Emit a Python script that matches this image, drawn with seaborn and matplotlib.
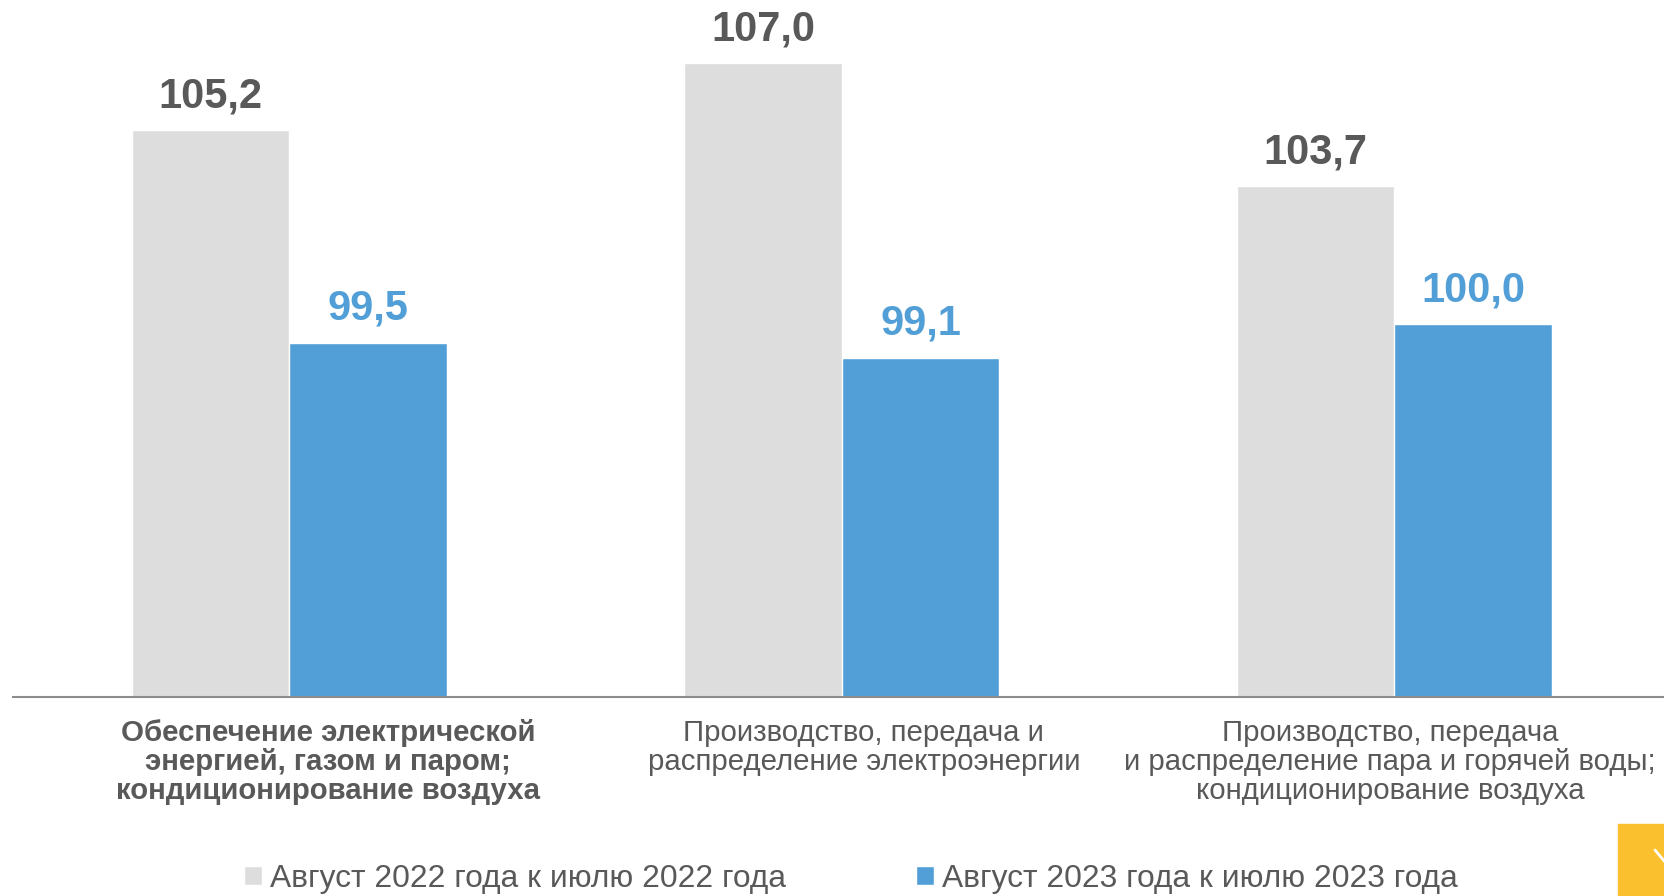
import pandas as pd
import matplotlib.pyplot as plt
import matplotlib.transforms as mtransforms
from matplotlib.patches import Rectangle
import seaborn as sns

# Categories and series
categories = ["Обеспечение электрической\nэнергией, газом и паром;\nкондиционирование воздуха",
              "Производство, передача и\nраспределение электроэнергии",
              "Производство, передача\nи распределение пара и горячей воды;\nкондиционирование воздуха"]
series = ["Август 2022 года к июлю 2022 года", "Август 2023 года к июлю 2023 года"]
values_2022 = [105.2, 107.0, 103.7]
values_2023 = [99.5, 99.1, 100.0]

df = pd.DataFrame({
    "category": categories * 2,
    "series": [series[0]] * 3 + [series[1]] * 3,
    "value": values_2022 + values_2023,
})

grey = "#DDDDDD"
blue = "#529FD7"
text_grey = "#595959"

sns.set_theme(style="white")
plt.rcParams['font.family'] = ['Liberation Sans', 'DejaVu Sans']

fig = plt.figure(figsize=(16.65, 8.96), dpi=100)
ax = fig.add_axes([13 / 1665, 199 / 896, 1652 / 1665, 697 / 896])

sns.barplot(data=df, x="category", y="value", hue="series", hue_order=series,
            order=categories, palette=[grey, blue], width=0.57, gap=0,
            saturation=1, ax=ax, legend=True)

ax.set_ylim(90, 108.69)
ax.set_xlim(-0.5, 2.49)
ax.set_xlabel("")
ax.set_ylabel("")
ax.set_yticks([])
for s in ["top", "left", "right"]:
    ax.spines[s].set_visible(False)
ax.spines["bottom"].set_color("#8C8C8C")
ax.spines["bottom"].set_linewidth(1.5)
ax.tick_params(axis="x", length=0, pad=16)

# value labels
label_colors = [text_grey, blue]
for cont, col in zip(ax.containers, label_colors):
    ax.bar_label(cont, labels=[f"{v:.1f}".replace(".", ",") for v in cont.datavalues],
                 padding=10, fontsize=30, fontweight="bold", color=col)

# category tick labels
offsets = [39, 22, -4]
for i, lab in enumerate(ax.get_xticklabels()):
    lab.set_fontsize(21.2)
    lab.set_color(text_grey)
    lab.set_linespacing(1.05)
    if i == 0:
        lab.set_fontweight("bold")
    lab.set_transform(lab.get_transform() +
                      mtransforms.ScaledTranslation(offsets[i] / 100, 0, fig.dpi_scale_trans))

# legend at bottom
handles, labels = ax.get_legend_handles_labels()
ax.get_legend().remove()
leg = fig.legend(handles, labels, loc="center", bbox_to_anchor=(0.511, 17 / 896), ncol=2,
                 frameon=False, fontsize=22.9, handlelength=0.55, handleheight=0.55,
                 handletextpad=0.25, columnspacing=4.1, borderaxespad=0)
for t in leg.get_texts():
    t.set_color(text_grey)

# yellow corner decoration
fig.patches.append(Rectangle((1618 / 1665, 0), 47 / 1665, 72 / 896,
                             transform=fig.transFigure, color="#FBC02D", zorder=5))
fig.lines.append(plt.Line2D([1655 / 1665, 1665 / 1665], [46 / 896, 34 / 896],
                            transform=fig.transFigure, color="white", lw=2, zorder=6))

fig.savefig("out.png", dpi=100)
